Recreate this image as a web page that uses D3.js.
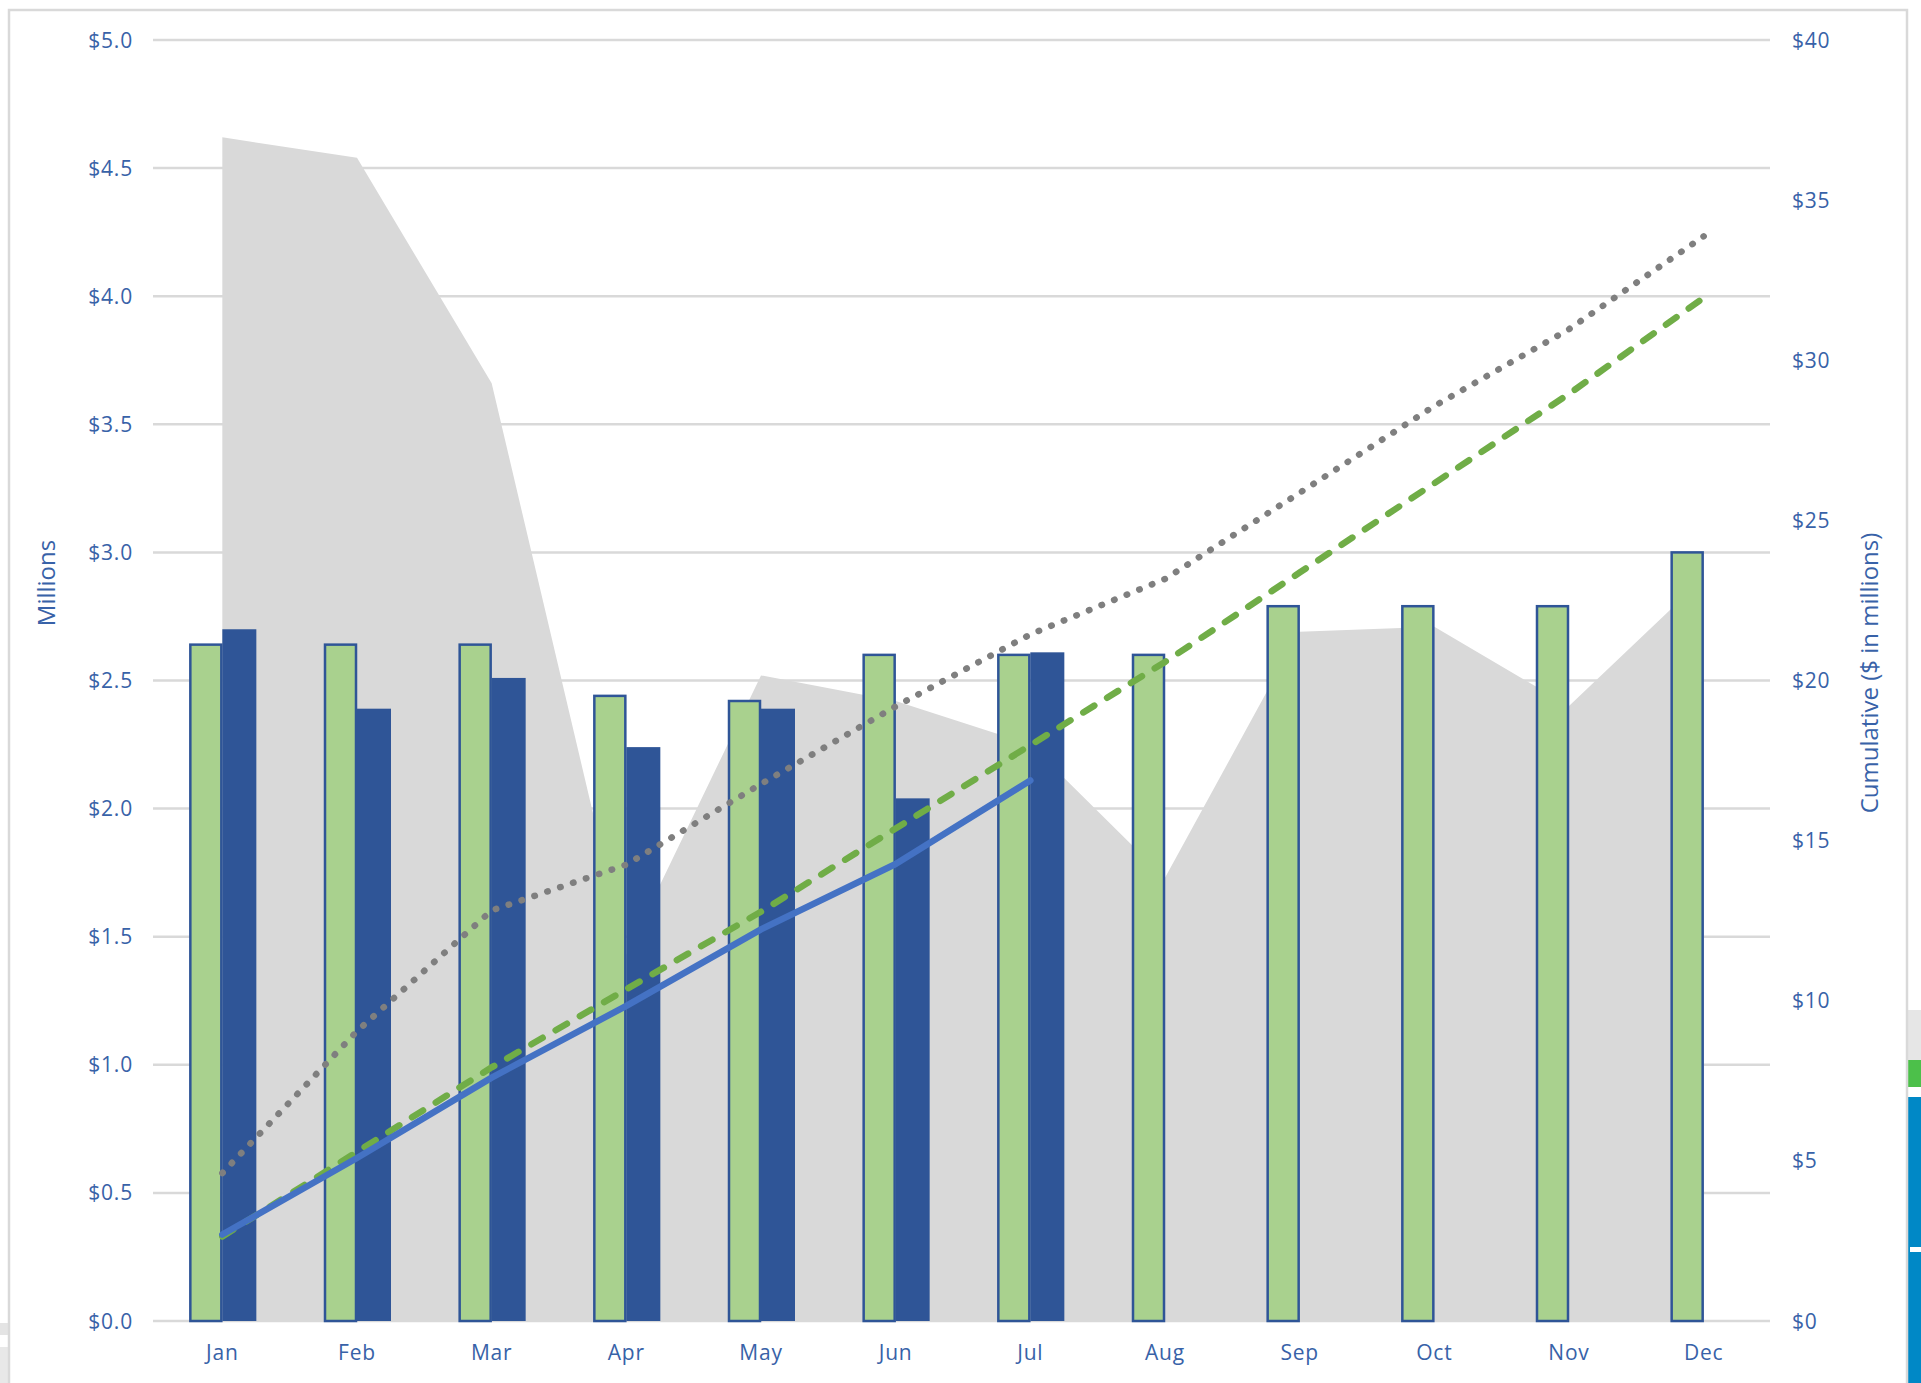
<!DOCTYPE html>
<html lang="en">
<head>
  <meta charset="UTF-8">
  <title>Monthly vs Cumulative</title>
  <script src="https://d3js.org/d3.v7.min.js"></script>
  <style>
    body { margin: 0; background: #fff; }
    .tick-label { font-family: "Open Sans", sans-serif; font-size: 21px; fill: #3862a8; letter-spacing: 0.8px; }
    .axis-title { font-family: "Open Sans", sans-serif; font-size: 24px; fill: #3862a8; }
  </style>
</head>
<body>
  <svg width="1921" height="1383"></svg>

  <script>
    // values ($ millions)
    const months = ["Jan", "Feb", "Mar", "Apr", "May", "Jun", "Jul", "Aug", "Sep", "Oct", "Nov", "Dec"];
    const budget = [2.64, 2.64, 2.64, 2.44, 2.42, 2.60, 2.60, 2.60, 2.79, 2.79, 2.79, 3.00];
    const actual = [2.70, 2.39, 2.51, 2.24, 2.39, 2.04, 2.61];
    const priorYear = [4.62, 4.54, 3.66, 1.43, 2.52, 2.42, 2.25, 1.73, 2.69, 2.71, 2.40, 2.90];
    const cumBudget = [2.64, 5.28, 7.92, 10.36, 12.78, 15.38, 17.98, 20.58, 23.37, 26.16, 28.95, 31.95];
    const cumActual = [2.70, 5.09, 7.60, 9.84, 12.23, 14.27, 16.88];
    const cumPrior = [4.62, 9.05, 12.82, 14.25, 16.77, 19.19, 21.44, 23.17, 25.86, 28.57, 30.97, 33.87];
    const leftTicks = [0, 0.5, 1, 1.5, 2, 2.5, 3, 3.5, 4, 4.5, 5];
    const rightTicks = [0, 5, 10, 15, 20, 25, 30, 35, 40];

    const svg = d3.select("svg");

    // plot box
    const plotLeft = 153, plotRight = 1770, plotTop = 40, plotBottom = 1321;

    const x = d3.scaleBand().domain(months).range([plotLeft + 2, plotRight + 1]).padding(0);
    const yL = d3.scaleLinear().domain([0, 5]).range([plotBottom, plotTop]);
    const yR = d3.scaleLinear().domain([0, 40]).range([plotBottom, plotTop]);
    const cx = m => x(m) + x.bandwidth() / 2;
    const barW = 33;

    // bits of the screenshot around the chart
    svg.append("rect").attr("x", 0).attr("y", 1323).attr("width", 8).attr("height", 12).attr("fill", "#e4e4e4");
    svg.append("rect").attr("x", 0).attr("y", 1347).attr("width", 8).attr("height", 40).attr("fill", "#e8e8e8");
    svg.append("rect").attr("x", 1908).attr("y", 1010).attr("width", 13).attr("height", 52).attr("fill", "#e6e6e6");
    svg.append("rect").attr("x", 1908).attr("y", 1060).attr("width", 13).attr("height", 27).attr("fill", "#4cc04a");
    svg.append("rect").attr("x", 1908).attr("y", 1097).attr("width", 13).attr("height", 290).attr("fill", "#0088c6");
    svg.append("rect").attr("x", 1910).attr("y", 1247).attr("width", 11).attr("height", 5).attr("fill", "#fff");

    // outer border
    svg.append("rect")
      .attr("x", 9).attr("y", 10).attr("width", 1898).attr("height", 1420)
      .attr("fill", "none").attr("stroke", "#d9d9d9").attr("stroke-width", 2.5);

    // gridlines
    svg.append("g").selectAll("line")
      .data(leftTicks)
      .join("line")
        .attr("x1", plotLeft).attr("x2", plotRight)
        .attr("y1", d => yL(d)).attr("y2", d => yL(d))
        .attr("stroke", "#d9d9d9").attr("stroke-width", 2.5);

    // prior year area
    const area = d3.area()
      .x((d, i) => cx(months[i]))
      .y0(yL(0))
      .y1(d => yL(d));
    svg.append("path")
      .datum(priorYear)
      .attr("d", area)
      .attr("fill", "#d9d9d9");

    // budget bars
    svg.append("g").selectAll("rect")
      .data(budget)
      .join("rect")
        .attr("x", (d, i) => cx(months[i]) - barW + 1)
        .attr("y", d => yL(d))
        .attr("width", barW - 2)
        .attr("height", d => yL(0) - yL(d))
        .attr("fill", "#a9d18e")
        .attr("stroke", "#2f5597")
        .attr("stroke-width", 2.5);

    // actual bars
    svg.append("g").selectAll("rect")
      .data(actual)
      .join("rect")
        .attr("x", (d, i) => cx(months[i]))
        .attr("y", d => yL(d))
        .attr("width", barW + 1)
        .attr("height", d => yL(0) - yL(d))
        .attr("fill", "#2f5597");

    // cumulative lines
    const line = d3.line()
      .x((d, i) => cx(months[i]))
      .y(d => yR(d));

    svg.append("path")
      .datum(cumPrior)
      .attr("d", line)
      .attr("fill", "none")
      .attr("stroke", "#7f7f7f")
      .attr("stroke-width", 6.5)
      .attr("stroke-linecap", "round")
      .attr("stroke-dasharray", "0.5,13.1");

    svg.append("path")
      .datum(cumBudget)
      .attr("d", line)
      .attr("fill", "none")
      .attr("stroke", "#70ad47")
      .attr("stroke-width", 6.5)
      .attr("stroke-linecap", "round")
      .attr("stroke-dasharray", "13,15");

    svg.append("path")
      .datum(cumActual)
      .attr("d", line)
      .attr("fill", "none")
      .attr("stroke", "#4472c4")
      .attr("stroke-width", 6.5)
      .attr("stroke-linecap", "round")
      .attr("stroke-linejoin", "round");

    // left axis labels
    svg.append("g").selectAll("text")
      .data(leftTicks)
      .join("text")
        .attr("class", "tick-label")
        .attr("x", 133)
        .attr("y", d => yL(d))
        .attr("dy", "0.36em")
        .attr("text-anchor", "end")
        .text(d => "$" + d3.format(".1f")(d));

    // right axis labels
    svg.append("g").selectAll("text")
      .data(rightTicks)
      .join("text")
        .attr("class", "tick-label")
        .attr("x", 1792)
        .attr("y", d => yR(d))
        .attr("dy", "0.36em")
        .attr("text-anchor", "start")
        .text(d => "$" + d);

    // month labels
    svg.append("g").selectAll("text")
      .data(months)
      .join("text")
        .attr("class", "tick-label")
        .attr("x", d => cx(d))
        .attr("y", 1360)
        .attr("text-anchor", "middle")
        .text(d => d);

    // axis titles
    svg.append("text")
      .attr("class", "axis-title")
      .attr("transform", "translate(55,583) rotate(-90)")
      .attr("text-anchor", "middle")
      .text("Millions");

    svg.append("text")
      .attr("class", "axis-title")
      .attr("transform", "translate(1878,673) rotate(-90)")
      .attr("text-anchor", "middle")
      .text("Cumulative ($ in millions)");
  </script>
</body>
</html>
